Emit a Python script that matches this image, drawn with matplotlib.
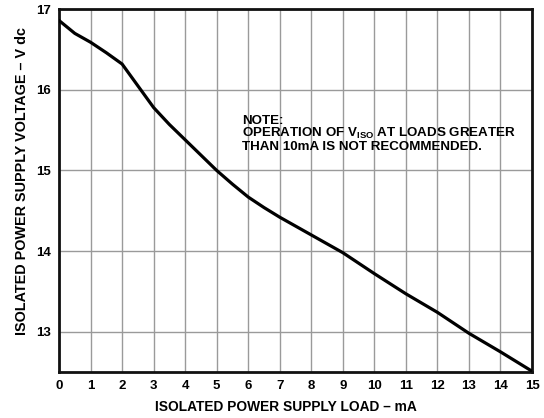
import matplotlib
matplotlib.use("Agg")
import matplotlib.pyplot as plt

plt.rcParams['font.family'] = ['Liberation Sans', 'DejaVu Sans']
plt.rcParams['font.weight'] = 'bold'
plt.rcParams['mathtext.fontset'] = 'custom'
plt.rcParams['mathtext.rm'] = 'Liberation Sans:bold'
plt.rcParams['mathtext.it'] = 'Liberation Sans:bold'
plt.rcParams['mathtext.bf'] = 'Liberation Sans:bold'

load_ma = [0, 0.5, 1, 1.5, 2, 2.5, 3, 3.5, 4, 4.5, 5, 5.5, 6, 6.5, 7, 8, 9,
           10, 11, 12, 13, 14, 15]
voltage = [16.86, 16.70, 16.59, 16.46, 16.32, 16.05, 15.78, 15.57, 15.38, 15.19,
           15.00, 14.83, 14.67, 14.54, 14.42, 14.20, 13.98,
           13.72, 13.47, 13.24, 12.98, 12.75, 12.51]
x_ticks = list(range(0, 16))
y_ticks = [13, 14, 15, 16, 17]

fig = plt.figure(figsize=(5.44, 4.18), dpi=100)
ax = fig.add_axes([0.1085, 0.110, 0.8695, 0.868])

ax.plot(load_ma, voltage, color='black', lw=2.3, solid_capstyle='round',
        solid_joinstyle='round', zorder=3)

ax.set_xlim(0, 15)
ax.set_ylim(12.5, 17)
ax.set_xticks(x_ticks)
ax.set_yticks(y_ticks)
ax.grid(True, color='#9a9a9a', lw=1.0)
ax.tick_params(length=0, labelsize=9.5, pad=6)
for lab in ax.get_xticklabels() + ax.get_yticklabels():
    lab.set_fontweight('bold')
for s in ax.spines.values():
    s.set_linewidth(2.0)
    s.set_color('#111111')

ax.set_xlabel('ISOLATED POWER SUPPLY LOAD – mA', fontsize=9.9, fontweight='bold')
ax.set_ylabel('ISOLATED POWER SUPPLY VOLTAGE – V dc', fontsize=10.4, fontweight='bold')
ax.xaxis.set_label_coords(0.48, -0.077)
ax.yaxis.set_label_coords(-0.064, 0.525)

ax.text(5.8, 15.69, 'NOTE:\nOPERATION OF V$_{\\mathregular{ISO}}$ AT LOADS GREATER\nTHAN 10mA IS NOT RECOMMENDED.',
        fontsize=9.6, fontweight='bold', va='top', ha='left', linespacing=0.95)

fig.savefig('out.png', dpi=100)
